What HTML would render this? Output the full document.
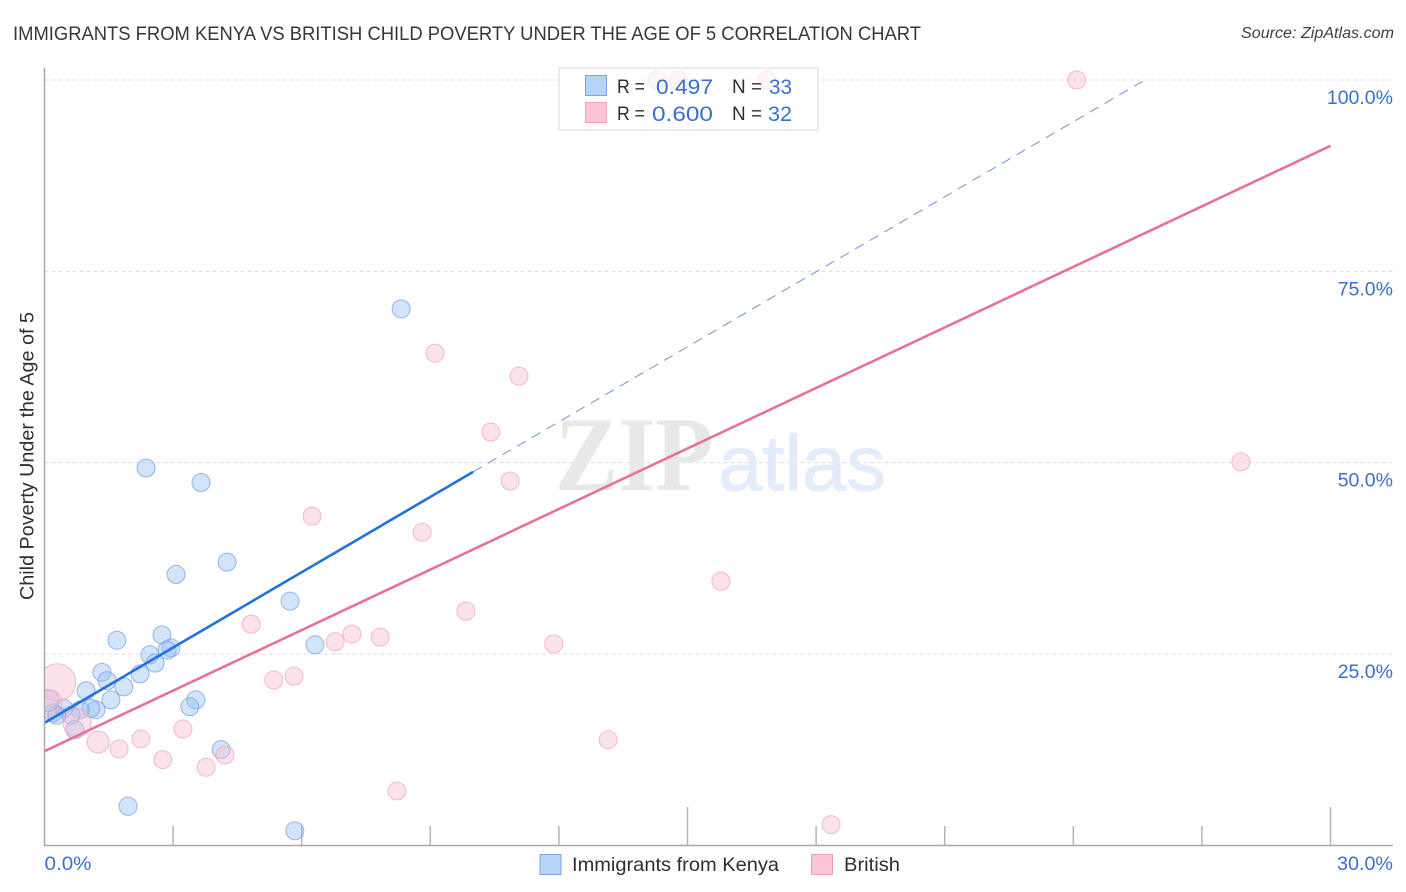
<!DOCTYPE html>
<html lang="en">
<head>
<meta charset="utf-8">
<title>Immigrants from Kenya vs British Child Poverty Correlation Chart</title>
<style>
  html, body { margin: 0; padding: 0; background: #fff; }
  svg { display: block; font-family: "Liberation Sans", sans-serif; }
</style>
</head>
<body>
<svg id="chart" xmlns="http://www.w3.org/2000/svg" width="1406" height="892" viewBox="0 0 1406 892">
  <rect x="0" y="0" width="1406" height="892" fill="#ffffff"></rect>
  <text x="13" y="40" font-size="19.5" fill="#33373e" textLength="908" lengthAdjust="spacingAndGlyphs">IMMIGRANTS FROM KENYA VS BRITISH CHILD POVERTY UNDER THE AGE OF 5 CORRELATION CHART</text>
  <text x="1394" y="38" font-size="15.5" font-style="italic" fill="#3c4048" text-anchor="end" textLength="153" lengthAdjust="spacingAndGlyphs">Source: ZipAtlas.com</text>
  <g id="grid-layer"></g>
  <text x="555" y="490" font-family="'Liberation Serif', serif" font-weight="bold" font-size="106" fill="#e8e8e8" textLength="158" lengthAdjust="spacingAndGlyphs">ZIP</text>
  <text x="718" y="490" font-size="78" fill="#e3ecfa" stroke="#e3ecfa" stroke-width="1" textLength="168" lengthAdjust="spacingAndGlyphs">atlas</text>
  <g id="axis-layer"></g>
  <g id="marks-layer"></g>
  <rect x="0" y="60" width="44.5" height="790" fill="#ffffff"></rect>
  <g id="y-axis-layer"></g>
  <text transform="translate(33.5,456) rotate(-90)" font-size="19" fill="#2b2f36" text-anchor="middle" textLength="288" lengthAdjust="spacingAndGlyphs">Child Poverty Under the Age of 5</text>
  <g id="tick-label-layer"></g>

  <g>
    <rect x="559" y="68" width="259" height="62" fill="#ffffff" fill-opacity="0.68" stroke="#d9d9d9" stroke-width="1"></rect>
    <rect x="585.5" y="75.5" width="21" height="20" fill="#b5d2f7" stroke="#7ba6e0" stroke-width="1"></rect>
    <text x="617" y="93" font-size="19.5" fill="#2b2f36" textLength="28" lengthAdjust="spacingAndGlyphs">R =</text>
    <text x="656" y="94" font-size="21.5" fill="#3a6fd0" textLength="57" lengthAdjust="spacingAndGlyphs">0.497</text>
    <text x="732" y="93" font-size="19.5" fill="#2b2f36" textLength="30" lengthAdjust="spacingAndGlyphs">N =</text>
    <text x="769" y="94" font-size="21.5" fill="#3a6fd0" textLength="23" lengthAdjust="spacingAndGlyphs">33</text>
    <rect x="585.5" y="102.5" width="21" height="20" fill="#fcc6d7" stroke="#efa0b9" stroke-width="1"></rect>
    <text x="617" y="120" font-size="19.5" fill="#2b2f36" textLength="28" lengthAdjust="spacingAndGlyphs">R =</text>
    <text x="652" y="121" font-size="21.5" fill="#3a6fd0" textLength="61" lengthAdjust="spacingAndGlyphs">0.600</text>
    <text x="732" y="120" font-size="19.5" fill="#2b2f36" textLength="30" lengthAdjust="spacingAndGlyphs">N =</text>
    <text x="768" y="121" font-size="21.5" fill="#3a6fd0" textLength="24" lengthAdjust="spacingAndGlyphs">32</text>
  </g>

  <g>
    <g>
      <rect x="540" y="854.5" width="21" height="20" fill="#b5d2f7" stroke="#7ba6e0" stroke-width="1"></rect>
      <text x="572" y="871" font-size="19.5" fill="#2b2f36" textLength="207" lengthAdjust="spacingAndGlyphs">Immigrants from Kenya</text>
    </g>
    <g>
      <rect x="811.5" y="854.5" width="21" height="20" fill="#fcc6d7" stroke="#efa0b9" stroke-width="1"></rect>
      <text x="844" y="871" font-size="19.5" fill="#2b2f36" textLength="56" lengthAdjust="spacingAndGlyphs">British</text>
    </g>
  </g>
</svg>

<script>
  // Chart data (percent values)
  const yTickValues = [25, 50, 75, 100];
  const yTickLabels = ["25.0%", "50.0%", "75.0%", "100.0%"];
  const xTickValues = [3, 6, 9, 12, 15, 18, 21, 24, 27, 30];
  const xMajorTickValues = [15, 30];
  const xEndValues = [0, 30];
  const xEndLabels = ["0.0%", "30.0%"];

  const kenyaX = [8.32, 2.37, 3.65, 4.26, 3.07, 5.73, 1.69, 2.74, 6.31, 2.46, 2.95, 2.86, 2.58, 1.34, 1.46, 2.23, 1.85, 0.97, 1.55, 3.53, 3.39, 1.20, 1.08, 0.83, 0.45, 0.62, 0.20, 0.29, 0.08, 0.71, 4.12, 1.95, 5.84];
  const kenyaY = [70.1, 49.3, 47.4, 37.0, 35.4, 31.9, 26.8, 27.5, 26.2, 24.9, 25.8, 25.5, 23.8, 22.6, 21.5, 22.4, 20.7, 20.2, 19.0, 19.0, 18.1, 17.7, 17.9, 17.7, 17.9, 17.0, 17.3, 17.0, 18.9, 15.1, 12.5, 5.1, 1.9];
  const kenyaSize = [9, 9, 9, 9, 9, 9, 9, 9, 9, 9, 9, 9, 9, 9, 9, 9, 9, 9, 9, 9, 9, 9, 9, 9, 9, 9, 9, 9, 11, 9, 9, 9, 9];

  const britishX = [0.30, 0.13, 0.76, 1.25, 1.74, 2.25, 2.76, 3.23, 3.77, 4.21, 5.35, 5.82, 6.78, 4.82, 6.24, 7.17, 7.83, 8.22, 8.81, 9.11, 9.83, 10.41, 10.86, 11.07, 11.88, 13.15, 15.78, 18.35, 24.08, 27.91, 14.29, 14.78, 16.85];
  const britishY = [21.3, 18.7, 16.0, 13.5, 12.6, 13.9, 11.2, 15.2, 10.2, 11.8, 21.6, 22.1, 26.6, 28.9, 43.0, 27.6, 27.2, 7.1, 40.9, 64.3, 30.6, 54.0, 47.6, 61.3, 26.3, 13.8, 34.5, 2.7, 100, 50.1, 100, 100, 100];
  const britishSize = [18.5, 12, 14, 11, 9, 9, 9, 9, 9, 9, 9, 9, 9, 9, 9, 9, 9, 9, 9, 9, 9, 9, 9, 9, 9, 9, 9, 9, 9, 9, 9, 9, 9];

  const kenyaTrendX = [0, 10];
  const kenyaTrendY = [16.0, 48.8];
  const kenyaProjectionX = [10, 25.67];
  const kenyaProjectionY = [48.8, 100];
  const britishTrendX = [0, 30];
  const britishTrendY = [12.3, 91.4];

  // Axis functions
  const xScale = function (v) { return 44.5 + v * (1330.5 - 44.5) / 30; };
  const yScale = function (v) { return 845.3 - v * (845.3 - 80) / 100; };

  const SVG_NS = "http://www.w3.org/2000/svg";
  function make(tag, parent, attrs) {
    const el = document.createElementNS(SVG_NS, tag);
    Object.keys(attrs).forEach(function (k) { el.setAttribute(k, attrs[k]); });
    parent.appendChild(el);
    return el;
  }

  const gridLayer = document.getElementById("grid-layer");
  const axisLayer = document.getElementById("axis-layer");
  const yAxisLayer = document.getElementById("y-axis-layer");
  const marksLayer = document.getElementById("marks-layer");
  const labelLayer = document.getElementById("tick-label-layer");

  // Gridlines and y tick labels
  yTickValues.forEach(function (v, i) {
    const grid = make("line", gridLayer, { x1: 44.5, x2: 1393, y1: yScale(v), y2: yScale(v), stroke: "#dcdcdc", "stroke-width": 1, "stroke-dasharray": "4 3" });
    
    
    const label = make("text", labelLayer, { x: 1393, y: yScale(v) + 24, "font-size": 19.5, fill: "#3a6fd0", "text-anchor": "end" });
    label.textContent = yTickLabels[i];
    
    
  });

  // Axes
  const yAxis = make("line", yAxisLayer, { x1: 44.5, x2: 44.5, y1: 68, y2: 846, stroke: "#a9a9a9", "stroke-width": 1.5 });
  
  
  const xAxis = make("line", axisLayer, { x1: 44, x2: 1393, y1: 845.5, y2: 845.5, stroke: "#a9a9a9", "stroke-width": 1.5 });
  
  

  xTickValues.forEach(function (v) {
    const top = xMajorTickValues.indexOf(v) >= 0 ? 807 : 826;
    const tick = make("line", axisLayer, { x1: xScale(v), x2: xScale(v), y1: top, y2: 845.5, stroke: "#b5b5b5", "stroke-width": 1.5 });
    
    
  });

  xEndValues.forEach(function (v, i) {
    const first = i === 0;
    const label = make("text", labelLayer, { x: first ? xScale(v) : 1393, y: 870, "font-size": 19.5, fill: "#3a6fd0", "text-anchor": first ? "start" : "end", textLength: first ? 47 : 56, lengthAdjust: "spacingAndGlyphs" });
    label.textContent = xEndLabels[i];
    
    
  });

  // Points
  kenyaX.forEach(function (v, i) {
    const point = make("circle", marksLayer, { cx: xScale(v), cy: yScale(kenyaY[i]), r: kenyaSize[i], fill: "#93bef2", "fill-opacity": 0.42, stroke: "#6f9be0", "stroke-opacity": 0.7, "stroke-width": 1 });
    
    
  });
  britishX.forEach(function (v, i) {
    const point = make("circle", marksLayer, { cx: xScale(v), cy: yScale(britishY[i]), r: britishSize[i], fill: "#f9bccf", "fill-opacity": 0.42, stroke: "#ee9fb8", "stroke-opacity": 0.7, "stroke-width": 1 });
    
    
  });

  // Trend lines
  const kenyaProjection = make("line", marksLayer, { x1: xScale(kenyaProjectionX[0]), y1: yScale(kenyaProjectionY[0]), x2: xScale(kenyaProjectionX[1]), y2: yScale(kenyaProjectionY[1]), stroke: "#6f93d8", "stroke-width": 1, "stroke-dasharray": "10 7" });
  
  
  const britishTrend = make("line", marksLayer, { x1: xScale(britishTrendX[0]), y1: yScale(britishTrendY[0]), x2: xScale(britishTrendX[1]), y2: yScale(britishTrendY[1]), stroke: "#e8709d", "stroke-width": 2.6 });
  
  
  const kenyaTrend = make("line", marksLayer, { x1: xScale(kenyaTrendX[0]), y1: yScale(kenyaTrendY[0]), x2: xScale(kenyaTrendX[1]), y2: yScale(kenyaTrendY[1]), stroke: "#2271dc", "stroke-width": 2.6 });
  
  
</script>
</body>
</html>
